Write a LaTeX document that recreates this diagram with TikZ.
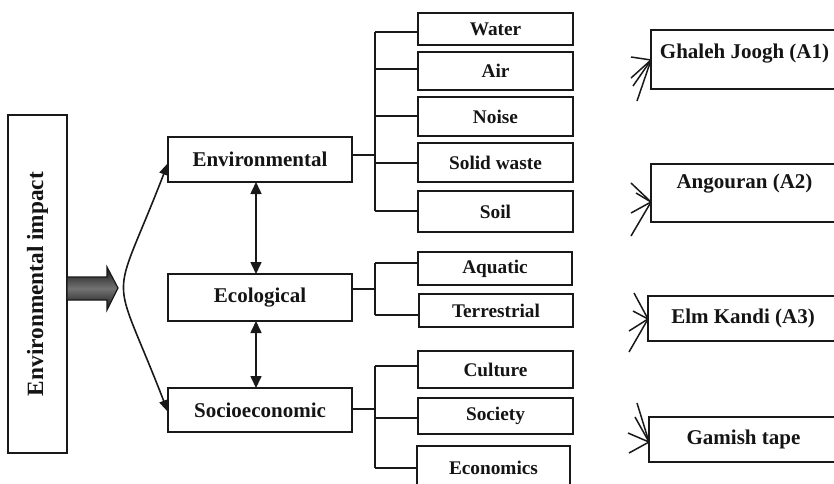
\documentclass[tikz,border=0pt]{standalone}
\usepackage{fontspec}
\setmainfont{Liberation Serif}
\usetikzlibrary{arrows.meta}
\begin{document}
\begin{tikzpicture}[x=1pt,y=-1pt,
  every node/.style={inner sep=0pt, outer sep=0pt, text=black!92},
  ln/.style={line width=1.6pt, draw=black!90},
  fan/.style={line width=1.5pt, draw=black!90},
  box/.style={draw=black!90, line width=1.6pt, anchor=north west},
  mainbox/.style={box, minimum width=184pt, font=\bfseries\fontsize{21}{24}\selectfont},
  subbox/.style={box, font=\bfseries\fontsize{19.3}{22}\selectfont},
  sitebox/.style={box, font=\bfseries\fontsize{21}{24}\selectfont},
  atip/.tip={Triangle[length=12pt,width=11pt]},
  btip/.tip={Triangle[length=12pt,width=9pt]}
]
\useasboundingbox (0,0) rectangle (834,483);
\clip (0,0) rectangle (834,483);

% left box
\node[draw=black!90, line width=1.6pt, rotate=90, minimum width=338pt, minimum height=59pt,
      font=\bfseries\fontsize{23.3}{26}\selectfont] (imp) at (37.5,284) {Environmental impact};

% block arrow (shape)
\path[draw=black!90, line width=1.2pt,
      top color=black!92, bottom color=black!92, middle color=black!55]
  (67,277) -- (107,277) -- (107,267) -- (118,288) -- (107,310) -- (107,300)
  -- (67,300) -- cycle;

% main boxes
\node[mainbox, minimum height=45pt] (env) at (168,137) {Environmental};
\node[mainbox, minimum height=47pt] (eco) at (168,274) {Ecological};
\node[mainbox, minimum height=44pt] (soc) at (168,388) {Socioeconomic};

% arrows between main boxes
\draw[ln, {atip}-{atip}] ([xshift=-4pt]env.south) -- ([xshift=-4pt]eco.north);
\draw[ln, {atip}-{atip}] ([xshift=-4pt]eco.south) -- ([xshift=-4pt]soc.north);
\draw[ln, {btip}-{btip}] (env.west |- 0,163) .. controls (110,313) and (110,262) .. (soc.west |- 0,412);

% sub boxes
\node[subbox, minimum width=155pt, minimum height=32pt] (water) at (418,13) {Water};
\node[subbox, minimum width=155pt, minimum height=38pt] (air) at (418,52) {Air};
\node[subbox, minimum width=155pt, minimum height=39pt] (noise) at (418,97) {Noise};
\node[subbox, minimum width=155pt, minimum height=39pt] (solid) at (418,143) {Solid waste};
\node[subbox, minimum width=155pt, minimum height=41pt] (soil) at (418,191) {Soil};
\node[subbox, minimum width=154pt, minimum height=33pt] (aqua) at (418,252) {Aquatic};
\node[subbox, minimum width=154pt, minimum height=33pt] (terr) at (419,294) {Terrestrial};
\node[subbox, minimum width=155pt, minimum height=37pt] (cult) at (418,351) {Culture};
\node[subbox, minimum width=155pt, minimum height=36pt] (socy) at (418,398) {Society};
\node[subbox, minimum width=153pt, minimum height=44pt] (econ) at (417,446) {Economics};

% junctions
\coordinate (j1) at (375,155);
\coordinate (j2) at (375,289);
\coordinate (j3) at (375,409);

% environmental branches
\draw[ln] (env.east |- j1) -- (j1);
\draw[ln] (375,32) -- (375,211);
\foreach \n/\y in {water/32, air/69, noise/116, solid/163, soil/211}
  \draw[ln] (375,\y) -- (\n.west |- 0,\y);

% ecological branches
\draw[ln] (eco.east |- j2) -- (j2);
\draw[ln] (375,263) -- (375,315);
\foreach \n/\y in {aqua/263, terr/315}
  \draw[ln] (375,\y) -- (\n.west |- 0,\y);

% socioeconomic branches
\draw[ln] (soc.east |- j3) -- (j3);
\draw[ln] (375,366) -- (375,468);
\foreach \n/\y in {cult/366, socy/418, econ/468}
  \draw[ln] (375,\y) -- (\n.west |- 0,\y);

% site boxes
\node[sitebox, minimum width=187pt, minimum height=59pt, text height=28pt, text depth=31pt] (a1) at (651,30) {Ghaleh Joogh (A1)};
\node[sitebox, minimum width=187pt, minimum height=58pt, text height=24pt, text depth=34pt] (a2) at (651,164) {Angouran (A2)};
\node[sitebox, minimum width=190pt, minimum height=45pt] (a3) at (648,296) {Elm Kandi (A3)};
\node[sitebox, minimum width=189pt, minimum height=45pt] (a4) at (649,417) {Gamish tape};

% fans
\coordinate (t1) at (a1.west |- 0,60);
\coordinate (t2) at (a2.west |- 0,202);
\coordinate (t3) at (a3.west |- 0,319);
\coordinate (t4) at (a4.west |- 0,442);
\coordinate (g1) at (631,57);  \coordinate (g2) at (631,78);
\coordinate (g3) at (633,86);  \coordinate (g4) at (637,101);
\coordinate (h1) at (631,183); \coordinate (h2) at (636,193);
\coordinate (h3) at (631,213); \coordinate (h4) at (631,236);
\coordinate (k1) at (634,293); \coordinate (k2) at (633,311);
\coordinate (k3) at (629,331); \coordinate (k4) at (629,352);
\coordinate (m1) at (637,403); \coordinate (m2) at (635,417);
\coordinate (m3) at (628,433); \coordinate (m4) at (629,453);
\foreach \c in {g1,g2,g3,g4} \draw[fan] (\c) -- (t1);
\foreach \c in {h1,h2,h3,h4} \draw[fan] (\c) -- (t2);
\foreach \c in {k1,k2,k3,k4} \draw[fan] (\c) -- (t3);
\foreach \c in {m1,m2,m3,m4} \draw[fan] (\c) -- (t4);
\end{tikzpicture}
\end{document}
